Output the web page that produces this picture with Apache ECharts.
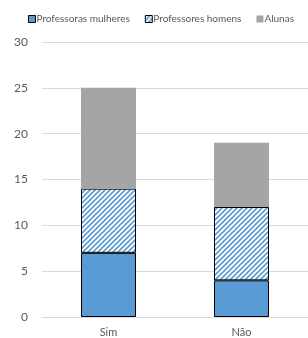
<!DOCTYPE html>
<html style="height: 100%">
<head>
	<meta charset="utf-8">
</head>
<body style="height: 100%; margin: 0; background: #fff">
<div id="container" style="width: 308px; height: 338px"></div>
<script type="text/javascript" src="https://cdn.jsdelivr.net/npm/echarts@6/dist/echarts.min.js"></script>
<script type="text/javascript">
    var categories = ['Sim', 'Não'];
    var professorasMulheres = [7, 4];
    var professoresHomens = [7, 8];
    var alunas = [11, 7];
    var yTicks = [0, 5, 10, 15, 20, 25, 30];

    // hatched fill for the men series
    function makeHatch() {
        var c = document.createElement('canvas');
        c.width = 5;
        c.height = 5;
        var ctx = c.getContext('2d');
        ctx.fillStyle = '#ffffff';
        ctx.fillRect(0, 0, 5, 5);
        ctx.strokeStyle = '#5b9bd5';
        ctx.lineWidth = 1.6;
        ctx.beginPath();
        ctx.moveTo(-1, 6); ctx.lineTo(6, -1);
        ctx.moveTo(-1, 1); ctx.lineTo(1, -1);
        ctx.moveTo(4, 6); ctx.lineTo(6, 4);
        ctx.stroke();
        return c;
    }
    var hatch = makeHatch();

    var dom = document.getElementById("container");
    var myChart = echarts.init(dom);
    var font = 'Lato, Open Sans, sans-serif';

    var option = {
        animation: false,
        backgroundColor: '#fff',
        textStyle: { fontFamily: font },
        legend: {
            top: 9,
            right: 9,
            icon: 'rect',
            itemWidth: 7,
            itemHeight: 7,
            itemGap: 15,
            textStyle: { fontSize: 10, color: '#595959', padding: [0, 0, 0, -4] },
            data: [
                { name: 'Professoras mulheres', itemStyle: { color: '#5b9bd5', borderColor: '#000', borderWidth: 1 } },
                { name: 'Professores homens', itemStyle: { color: { image: hatch, repeat: 'repeat' }, borderColor: '#000', borderWidth: 1 } },
                { name: 'Alunas', itemStyle: { color: '#a5a5a5' } }
            ]
        },
        grid: { left: 42, right: 0, top: 42, bottom: 21 },
        xAxis: {
            type: 'category',
            data: categories,
            axisLine: { lineStyle: { color: '#d9d9d9' } },
            axisTick: { show: false },
            axisLabel: { color: '#595959', fontSize: 11, margin: 10 }
        },
        yAxis: {
            type: 'value',
            min: yTicks[0],
            max: yTicks[yTicks.length - 1],
            interval: 5,
            axisLine: { show: false },
            axisTick: { show: false },
            splitLine: { lineStyle: { color: '#d9d9d9' } },
            axisLabel: { color: '#595959', fontSize: 12, margin: 14 }
        },
        series: [
            {
                name: 'Professoras mulheres',
                type: 'bar',
                stack: 'total',
                barWidth: 55,
                data: professorasMulheres,
                itemStyle: { color: '#5b9bd5', borderColor: '#000', borderWidth: 1 }
            },
            {
                name: 'Professores homens',
                type: 'bar',
                stack: 'total',
                data: professoresHomens,
                itemStyle: { color: { image: hatch, repeat: 'repeat' }, borderColor: '#000', borderWidth: 1 }
            },
            {
                name: 'Alunas',
                type: 'bar',
                stack: 'total',
                data: alunas,
                itemStyle: { color: '#a5a5a5' }
            }
        ]
    };
    myChart.setOption(option);
</script>
</body>
</html>
